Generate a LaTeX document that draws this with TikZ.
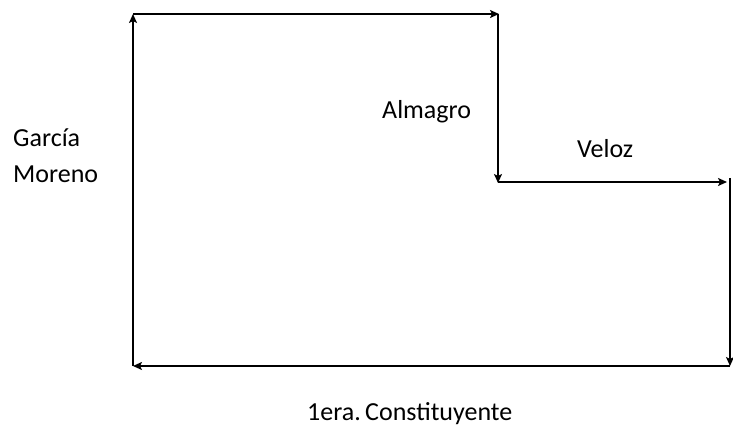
\documentclass[tikz,border=0pt]{standalone}
\usepackage{fontspec}
\setmainfont{Carlito}
\usetikzlibrary{arrows.meta}
\tikzset{
  street/.style={line width=1.8pt, -{Stealth[length=9pt,width=8pt,inset=2pt]}},
  lbl/.style={anchor=base west, inner sep=0pt, font=\fontsize{26}{36}\selectfont}
}
\begin{document}
\begin{tikzpicture}[x=1pt,y=-1pt]
  \useasboundingbox (0,0) rectangle (733,435);
  % corners of the block
  \coordinate (nw) at (133,14);
  \coordinate (ne) at (498,14);
  \coordinate (mid) at (498,182);
  \coordinate (ee) at (730,182);
  \coordinate (se) at (730,366);
  \coordinate (sw) at (133,366);
  % streets
  \draw[street] (sw) -- (nw);
  \draw[street] (nw) -- ([xshift=1pt]ne);
  \draw[street] (ne) -- ([yshift=-1pt]mid);
  \draw[street] (mid) -- ([xshift=-3pt]ee);
  \draw[street] ([yshift=4pt]ee) -- (se);
  \draw[street] (se) -- (sw);
  % names
  \node[lbl] (gar) at (13,147) {García};
  \node[lbl] (mor) at (13,183) {Moreno};
  \node[lbl] (alm) at (382,119) {Almagro};
  \node[lbl] (vel) at (577,158) {Veloz};
  \node[lbl] (con) at (307,420) {1era.\,Constituyente};
\end{tikzpicture}
\end{document}
